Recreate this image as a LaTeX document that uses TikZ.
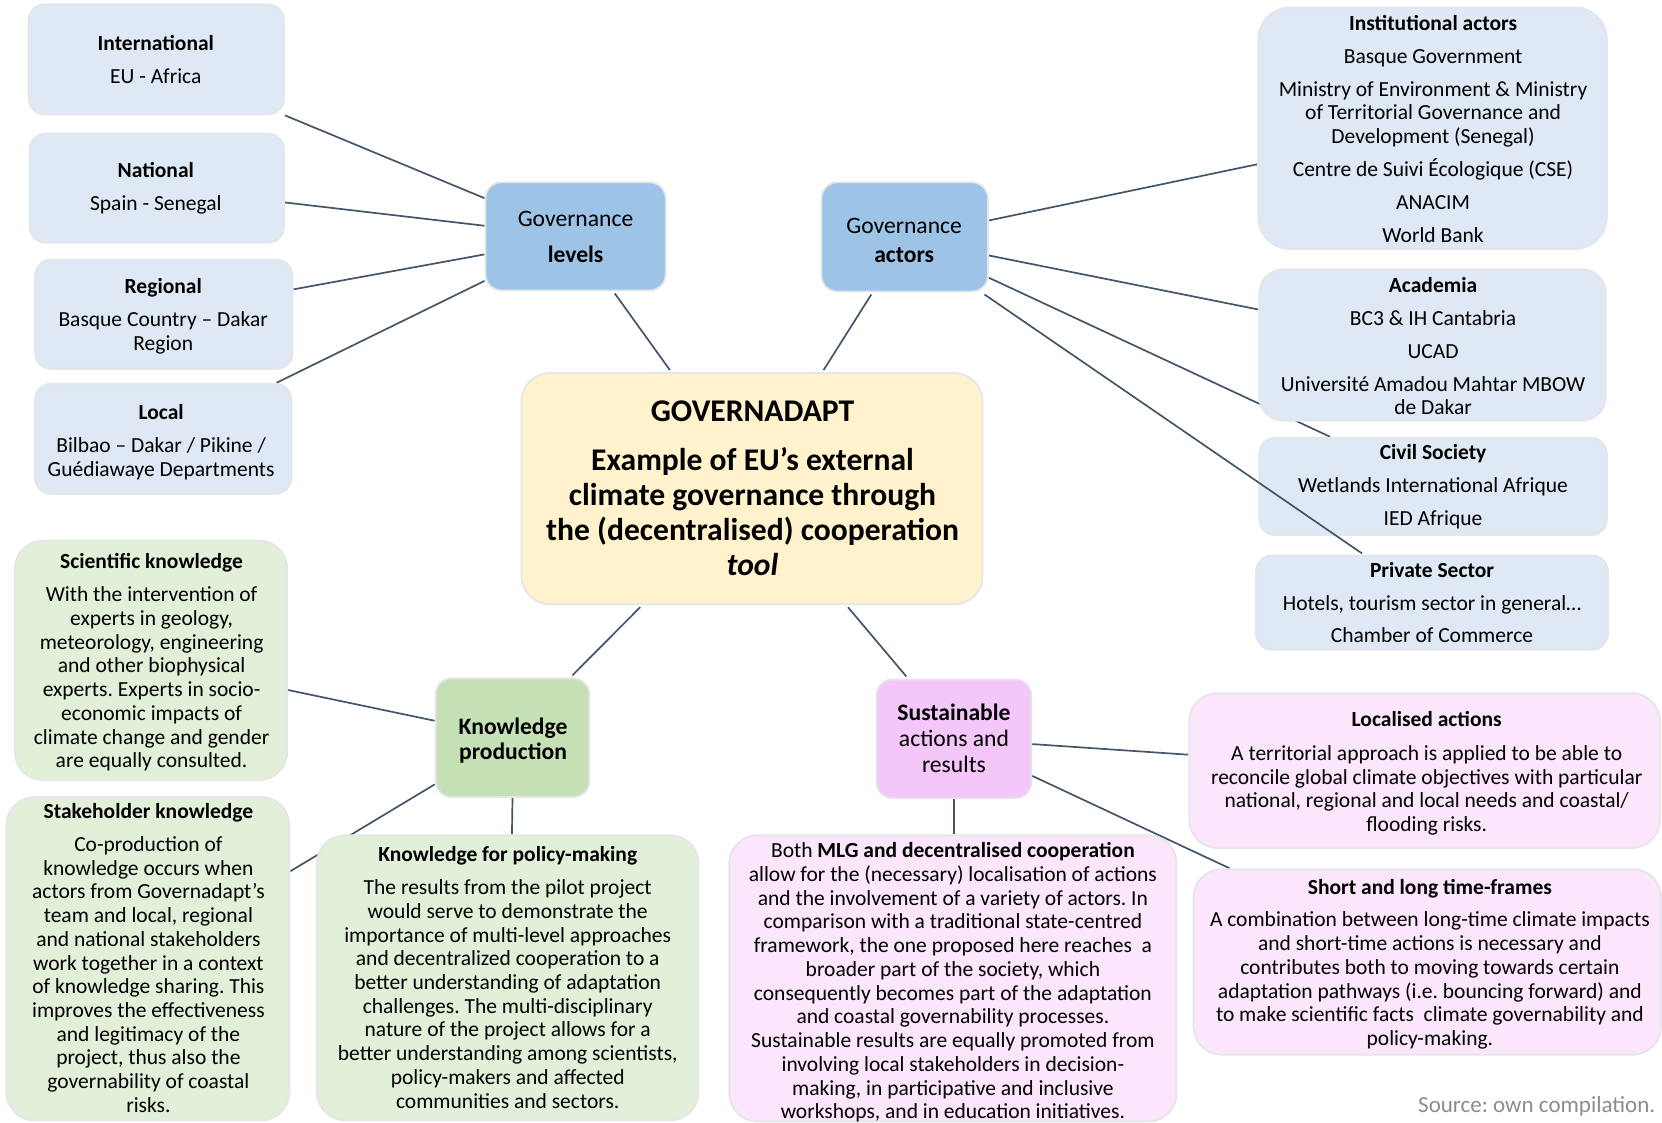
\documentclass[tikz,border=0pt]{standalone}
\usepackage{fontspec}
\setmainfont{Carlito}
\frenchspacing
\usetikzlibrary{calc,backgrounds}

\definecolor{lblue}{HTML}{DEE9F5}
\definecolor{gblue}{HTML}{9DC3E6}
\definecolor{cream}{HTML}{FFF2CC}
\definecolor{kgreen}{HTML}{C5E0B4}
\definecolor{lgreen}{HTML}{E2F0D9}
\definecolor{mauve}{HTML}{F4C6F9}
\definecolor{lpink}{HTML}{FBE6FB}
\definecolor{linec}{HTML}{44546A}
\definecolor{edgec}{HTML}{E4E6EA}
\definecolor{srcgray}{HTML}{8C8C8C}

\newcommand\bodyfont{\fontsize{10.75}{11.87}\selectfont}
\newcommand\mainfont{\fontsize{15.8}{17.5}\selectfont\bfseries}

\tikzset{
  panel/.style={rounded corners=8pt, draw=edgec, line width=0.9pt, inner sep=0pt},
  sz/.style 2 args={minimum width=#1*0.53pt, minimum height=#2*0.53pt},
  bluebox/.style={panel, fill=lblue},
  govbox/.style={panel, fill=gblue},
  corebox/.style={panel, fill=cream, rounded corners=14pt},
  kbox/.style={panel, fill=kgreen},
  greenbox/.style={panel, fill=lgreen, rounded corners=14pt},
  sbox/.style={panel, fill=mauve},
  pinkbox/.style={panel, fill=lpink, rounded corners=14pt},
  % texts are placed by the baseline of their last line
  txt/.style={align=center, anchor=base, inner sep=0pt, font=\bodyfont, yshift=-0.8pt},
  link/.style={draw=linec, line width=0.85pt},
}

\begin{document}
\begin{tikzpicture}[x=0.53pt, y=-0.53pt]
\useasboundingbox (0,0) rectangle (1568,1059);

% ---------- boxes ----------
\node[bluebox, sz={241}{104}] (intl)  at (147.5,56)  {};
\node[bluebox, sz={240}{103}] (natl)  at (148,177.5) {};
\node[bluebox, sz={243}{103}] (regl)  at (154.5,296.5) {};
\node[bluebox, sz={242}{104}] (locl)  at (154,414) {};
\node[govbox,  sz={170}{102}] (govlev) at (543,223) {};
\node[govbox,  sz={157}{103}] (govact) at (853.5,223.5) {};
\node[bluebox, sz={329}{228}, rounded corners=16pt] (inst) at (1351.5,121) {};
\node[bluebox, sz={327}{143}, rounded corners=12pt] (acad) at (1351.5,325.5) {};
\node[bluebox, sz={328}{92}]  (civil) at (1352,459) {};
\node[bluebox, sz={332}{89}]  (priv)  at (1351,568.5) {};
\node[corebox, sz={435}{218}] (core)  at (709.5,461) {};
\node[kbox,    sz={145}{112}] (kp)    at (483.5,696) {};
\node[greenbox,sz={257}{226}] (sci)   at (142.5,623) {};
\node[greenbox,sz={267}{305}] (stake) at (139.5,904.5) {};
\node[greenbox,sz={360}{269}] (kfpm)  at (479,922.5) {};
\node[sbox,    sz={146}{112}] (sar)   at (900,697) {};
\node[pinkbox, sz={444}{146}] (locact) at (1344,727) {};
\node[pinkbox, sz={422}{270}] (mlg)   at (899,923) {};
\node[pinkbox, sz={441}{175}] (stlt)  at (1346.5,907.5) {};

% ---------- connectors behind the boxes ----------
\begin{pgfonlayer}{background}
\draw[link] (intl.south east) -- ($(govlev.west)+(0,-36)$);
\draw[link] ($(natl.east)+(0,13.5)$) -- ($(govlev.west)+(0,-10)$);
\draw[link] ($(regl.east)+(0,-23.5)$) -- ($(govlev.west)+(0,17)$);
\draw[link] ($(locl.north east)+(-15,0)$) -- ($(govlev.west)+(0,42)$);
\draw[link] ($(govlev.south)+(37,2)$) -- ($(core.north)+(-77.5,-2)$);
\draw[link] ($(govact.south)+(-31.5,2)$) -- ($(core.north)+(67.5,-2)$);
\draw[link] ($(govact.east)+(0,-15.5)$) -- ($(inst.west)+(0,34)$);
\draw[link] ($(govact.east)+(0,17.5)$) -- ($(acad.west)+(0,-33.5)$);
\draw[link] ($(govact.east)+(0,38.5)$) -- ($(civil.north)+(-97,0)$);
\draw[link] ($(core.south)+(-105.5,2)$) -- ($(kp.north)+(56.5,-2)$);
\draw[link] ($(core.south)+(90.5,2)$) -- ($(sar.north)+(-45,-2)$);
\draw[link] ($(kp.west)+(0,-16)$) -- ($(sci.east)+(0,28)$);
\draw[link] ($(kp.west)+(0,44)$) -- ($(stake.east)+(0,-82.5)$);
\draw[link] (kp.south) -- ($(kfpm.north)+(4,0)$);
\draw[link] ($(sar.east)+(0,5)$) -- ($(locact.west)+(0,-15)$);
\draw[link] ($(sar.east)+(0,35)$) -- ($(stlt.north)+(-186.5,0)$);
\draw[link] (sar.south) -- ($(mlg.north)+(1,0)$);
\end{pgfonlayer}

% this one runs across the Civil Society box
\draw[link] ($(govact.south east)+(-4,2)$) -- ($(priv.north)+(-66,-1)$);

% ---------- texts ----------
\node[txt] (intl-t) at (147,77) {\textbf{International}\\[4.56pt]EU - Africa};
\node[txt] (natl-t) at (147,197) {\textbf{National}\\[4.56pt]Spain - Senegal};
\node[txt] (regl-t) at (154,329) {\textbf{Regional}\\[4.56pt]Basque Country – Dakar\\Region};
\node[txt] (locl-t) at (152,448) {\textbf{Local}\\[4.56pt]Bilbao – Dakar / Pikine /\\Guédiawaye Departments};

\node[txt, font=\fontsize{11.8}{18}\selectfont] (govlev-t) at (543,246) {Governance\\\textbf{levels}};
\node[txt, font=\fontsize{11.8}{14.3}\selectfont] (govact-t) at (853,246) {Governance\\\textbf{actors}};

\node[txt] (inst-t) at (1352,227) {\textbf{Institutional actors}\\[4.56pt]Basque Government\\[4.56pt]Ministry of Environment \& Ministry\\of Territorial Governance and\\Development (Senegal)\\[4.56pt]Centre de Suivi Écologique (CSE)\\[4.56pt]ANACIM\\[4.56pt]World Bank};
\node[txt] (acad-t) at (1352,390) {\textbf{Academia}\\[4.56pt]BC3 \& IH Cantabria\\[4.56pt]UCAD\\[4.56pt]Université Amadou Mahtar MBOW\\de Dakar};
\node[txt] (civil-t) at (1352,494) {\textbf{Civil Society}\\[4.56pt]Wetlands International Afrique\\[4.56pt]IED Afrique};
\node[txt] (priv-t) at (1351,605) {\textbf{Private Sector}\\[4.56pt]Hotels, tourism sector in general…\\[4.56pt]Chamber of Commerce};

\node[txt, font=\mainfont] (core-t) at (710,541) {GOVERNADAPT\\[6.9pt]Example of EU’s external\\climate governance through\\the (decentralised) cooperation\\\textit{tool}};

\node[txt, font=\fontsize{11.8}{12.7}\selectfont\bfseries] (kp-t) at (484,715) {Knowledge\\production};
\node[txt, font=\fontsize{11.8}{13}\selectfont] (sar-t) at (900,727) {\textbf{Sustainable}\\actions and\\results};

\node[txt] (sci-t) at (143,723) {\textbf{Scientific knowledge}\\[4.56pt]With the intervention of\\experts in geology,\\meteorology, engineering\\and other biophysical\\experts. Experts in socio-\\economic impacts of\\climate change and gender\\are equally consulted.};
\node[txt] (stake-t) at (140,1048) {\textbf{Stakeholder knowledge}\\[4.56pt]Co-production of\\knowledge occurs when\\actors from Governadapt’s\\team and local, regional\\and national stakeholders\\work together in a context\\of knowledge sharing. This\\improves the effectiveness\\and legitimacy of the\\project, thus also the\\governability of coastal\\risks.};
\node[txt] (kfpm-t) at (479,1044) {\textbf{Knowledge for policy-making}\\[4.56pt]The results from the pilot project\\would serve to demonstrate the\\importance of multi-level approaches\\and decentralized cooperation to a\\better understanding of adaptation\\challenges. The multi-disciplinary\\nature of the project allows for a\\better understanding among scientists,\\policy-makers and affected\\communities and sectors.};
\node[txt] (mlg-t) at (899,1054) {Both \textbf{MLG and decentralised cooperation}\\allow for the (necessary) localisation of actions\\and the involvement of a variety of actors. In\\comparison with a traditional state-centred\\framework, the one proposed here reaches\ \ a\\broader part of the society, which\\consequently becomes part of the adaptation\\and coastal governability processes.\\Sustainable results are equally promoted from\\involving local stakeholders in decision-\\making, in participative and inclusive\\workshops, and in education initiatives.};
\node[txt] (locact-t) at (1346,783) {\textbf{Localised actions}\\[5pt]A territorial approach is applied to be able to\\reconcile global climate objectives with particular\\national, regional and local needs and coastal/\\flooding risks.};
\node[txt] (stlt-t) at (1349,985) {\textbf{Short and long time-frames}\\[4.56pt]A combination between long-time climate impacts\\and short-time actions is necessary and\\contributes both to moving towards certain\\adaptation pathways (i.e. bouncing forward) and\\to make scientific facts\ \ climate governability and\\policy-making.};

\node[anchor=base east, inner sep=0pt, text=srcgray, font=\fontsize{11.5}{13}\selectfont] (src) at (1562,1050) {Source: own compilation.};
\end{tikzpicture}
\end{document}
